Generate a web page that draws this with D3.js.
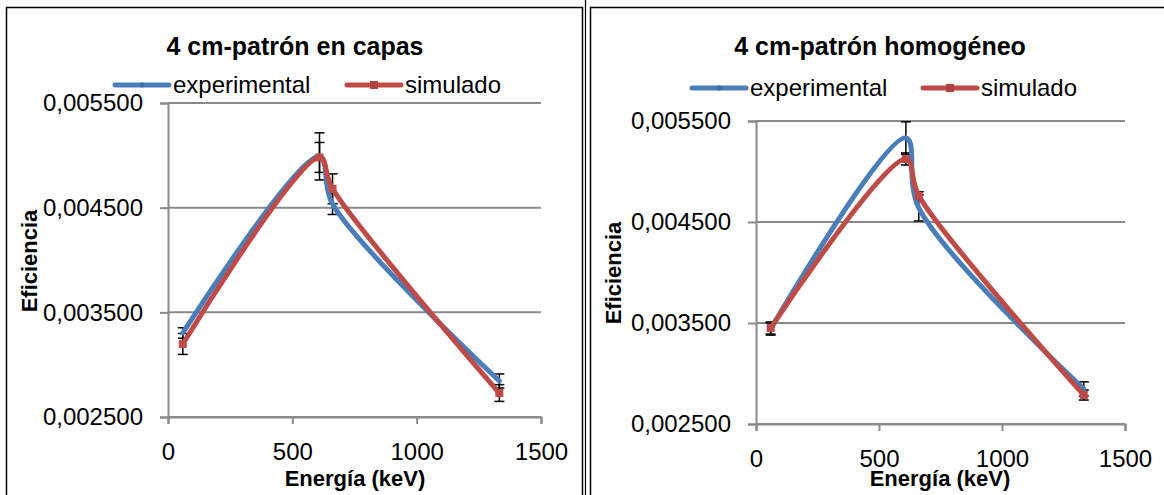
<!DOCTYPE html>
<html>
<head>
<meta charset="utf-8">
<script src="https://cdn.jsdelivr.net/npm/d3@7/dist/d3.min.js"></script>
<style>
  body { margin: 0; background: #fff; }
  svg { display: block; font-family: "Liberation Sans", Arial, sans-serif; }
</style>
</head>
<body>
<svg id="chart" width="1164" height="495"></svg>
<script>
// energies (keV) shared by both panels
var energies = [59.5, 609.3, 661.7, 1332.5];

// panel 1: 4 cm-patron en capas
var capasExp    = [0.003303, 0.004990, 0.004535, 0.002844];
var capasExpErr = [0.000050, 0.000225, 0.000100, 0.000067];
var capasSim    = [0.003198, 0.004980, 0.004680, 0.002729];
var capasSimErr = [0.000100, 0.000143, 0.000143, 0.000080];

// panel 2: 4 cm-patron homogeneo
var homoExp    = [0.003440, 0.005332, 0.004640, 0.002847];
var homoExpErr = [0.000060, 0.000160, 0.000130, 0.000070];
var homoSim    = [0.003450, 0.005124, 0.004760, 0.002787];
var homoSimErr = [0.000060, 0.000060, 0.000040, 0.000050];

var titles = ["4 cm-patrón en capas", "4 cm-patrón homogéneo"];
var seriesNames = ["experimental", "simulado"];
var xTicks = [0, 500, 1000, 1500];
var yTicks = [0.0025, 0.0035, 0.0045, 0.0055];
var xTitle = "Energía (keV)";
var yTitle = "Eficiencia";

var blue = "#4a7ebb", red = "#be4b48", grid = "#8a8a8a";
var fmt = d3.formatLocale({decimal: ",", thousands: ".", grouping: [3], currency: ["", ""]}).format(".6f");

var svg = d3.select("#chart");
svg.append("rect").attr("width", 1164).attr("height", 495).attr("fill", "#fff");

// panel frames
svg.append("rect").attr("x", 6.5).attr("y", 7.5).attr("width", 576).attr("height", 500)
   .attr("fill", "none").attr("stroke", "#000").attr("stroke-width", 1.5);
svg.append("line").attr("x1", 585.5).attr("x2", 585.5).attr("y1", 0).attr("y2", 495)
   .attr("stroke", "#000").attr("stroke-width", 1.2);
svg.append("rect").attr("x", 590.5).attr("y", 7.5).attr("width", 600).attr("height", 500)
   .attr("fill", "none").attr("stroke", "#000").attr("stroke-width", 1.5);

function drawPanel(p, exp, expErr, sim, simErr, title){
  var x = d3.scaleLinear().domain([0, 1500]).range([p.x0, p.x1]);
  var y = d3.scaleLinear().domain([0.0025, 0.0055]).range([p.yBot, p.yTop]);
  var g = svg.append("g");

  // gridlines
  g.selectAll("line.grid")
   .data(yTicks.slice(1))
   .enter().append("line")
   .attr("x1", p.x0).attr("x2", p.x1)
   .attr("y1", function(d){ return y(d); })
   .attr("y2", function(d){ return y(d); })
   .attr("stroke", grid).attr("stroke-width", 2);

  var yAxis = d3.axisLeft(y).tickValues(yTicks).tickSize(8).tickPadding(17).tickFormat(fmt);
  var xAxis = d3.axisBottom(x).tickValues(xTicks).tickSize(7).tickPadding(19).tickFormat(d3.format("d"));

  var ya = g.append("g").attr("transform", "translate(" + p.x0 + ",0)").call(yAxis);
  var xa = g.append("g").attr("transform", "translate(0," + p.yBot + ")").call(xAxis);
  [ya, xa].forEach(function(a){
    a.attr("font-family", null).attr("font-size", null);
    a.select(".domain").attr("stroke", grid).attr("stroke-width", 2);
    a.selectAll(".tick line").attr("stroke", grid).attr("stroke-width", 2);
    a.selectAll("text").attr("fill", "#000").style("font-size", "24px");
  });
  // gridline across bottom tick too (axis line)
  g.append("line").attr("x1", p.x0).attr("x2", p.x1).attr("y1", p.yBot).attr("y2", p.yBot)
   .attr("stroke", grid).attr("stroke-width", 2);

  var line = d3.line()
    .x(function(d){ return x(d[0]); })
    .y(function(d){ return y(d[1]); })
    .curve(d3.curveCatmullRom.alpha(0.5));

  var series = [
    {vals: exp, err: expErr, color: blue},
    {vals: sim, err: simErr, color: red}
  ];

  // error bars
  series.forEach(function(s){
    var eb = g.append("g").attr("stroke", "#000").attr("stroke-width", 1.5);
    energies.forEach(function(e, i){
      var cx = x(e), lo = y(s.vals[i] - s.err[i]), hi = y(s.vals[i] + s.err[i]);
      eb.append("line").attr("x1", cx).attr("x2", cx).attr("y1", lo).attr("y2", hi);
      eb.append("line").attr("x1", cx - 5).attr("x2", cx + 5).attr("y1", lo).attr("y2", lo);
      eb.append("line").attr("x1", cx - 5).attr("x2", cx + 5).attr("y1", hi).attr("y2", hi);
    });
  });

  series.forEach(function(s, k){
    var pts = energies.map(function(e, i){ return [e, s.vals[i]]; });
    g.append("path").datum(pts)
     .attr("d", line)
     .attr("fill", "none").attr("stroke", s.color).attr("stroke-width", 5)
     .attr("stroke-linecap", "round").attr("stroke-linejoin", "round");
    if(k == 1){
      g.selectAll("rect.m" + k).data(pts).enter().append("rect")
       .attr("x", function(d){ return x(d[0]) - 4; })
       .attr("y", function(d){ return y(d[1]) - 4; })
       .attr("width", 8).attr("height", 8).attr("fill", s.color);
    }
  });

  // title
  g.append("text").attr("x", p.titleX).attr("y", 55).attr("text-anchor", "middle")
   .style("font-size", "25px").style("font-weight", "bold").text(title);

  // legend
  [p.legExpX, p.legSimX].forEach(function(lx, k){
    var c = k == 0 ? blue : red;
    g.append("line").attr("x1", lx).attr("x2", lx + 54).attr("y1", p.legY).attr("y2", p.legY)
     .attr("stroke", c).attr("stroke-width", 5).attr("stroke-linecap", "round");
    if(k == 0){
      g.append("circle").attr("cx", lx + 27).attr("cy", p.legY).attr("r", 2.5).attr("fill", "#3f6fa8");
    } else {
      g.append("rect").attr("x", lx + 23).attr("y", p.legY - 4).attr("width", 8).attr("height", 8).attr("fill", "#b04340");
    }
    g.append("text").attr("x", lx + 58).attr("y", p.legY + 8)
     .style("font-size", "24px").text(seriesNames[k]);
  });

  // axis titles
  g.append("text").attr("x", p.xTitleX).attr("y", 486).attr("text-anchor", "middle")
   .style("font-size", "22px").style("font-weight", "bold").text(xTitle);
  g.append("text").attr("transform", "translate(" + p.yTitleX + "," + p.yTitleY + ") rotate(-90)")
   .attr("text-anchor", "middle")
   .style("font-size", "22px").style("font-weight", "bold").text(yTitle);
}

drawPanel({x0: 168, x1: 541, yTop: 103, yBot: 417, titleX: 295, legY: 85, legExpX: 115, legSimX: 347,
           xTitleX: 355, yTitleX: 37, yTitleY: 261},
          capasExp, capasExpErr, capasSim, capasSimErr, titles[0]);
drawPanel({x0: 756, x1: 1125, yTop: 121, yBot: 424, titleX: 880, legY: 88, legExpX: 692, legSimX: 923,
           xTitleX: 940, yTitleX: 621, yTitleY: 273},
          homoExp, homoExpErr, homoSim, homoSimErr, titles[1]);
</script>
</body>
</html>
